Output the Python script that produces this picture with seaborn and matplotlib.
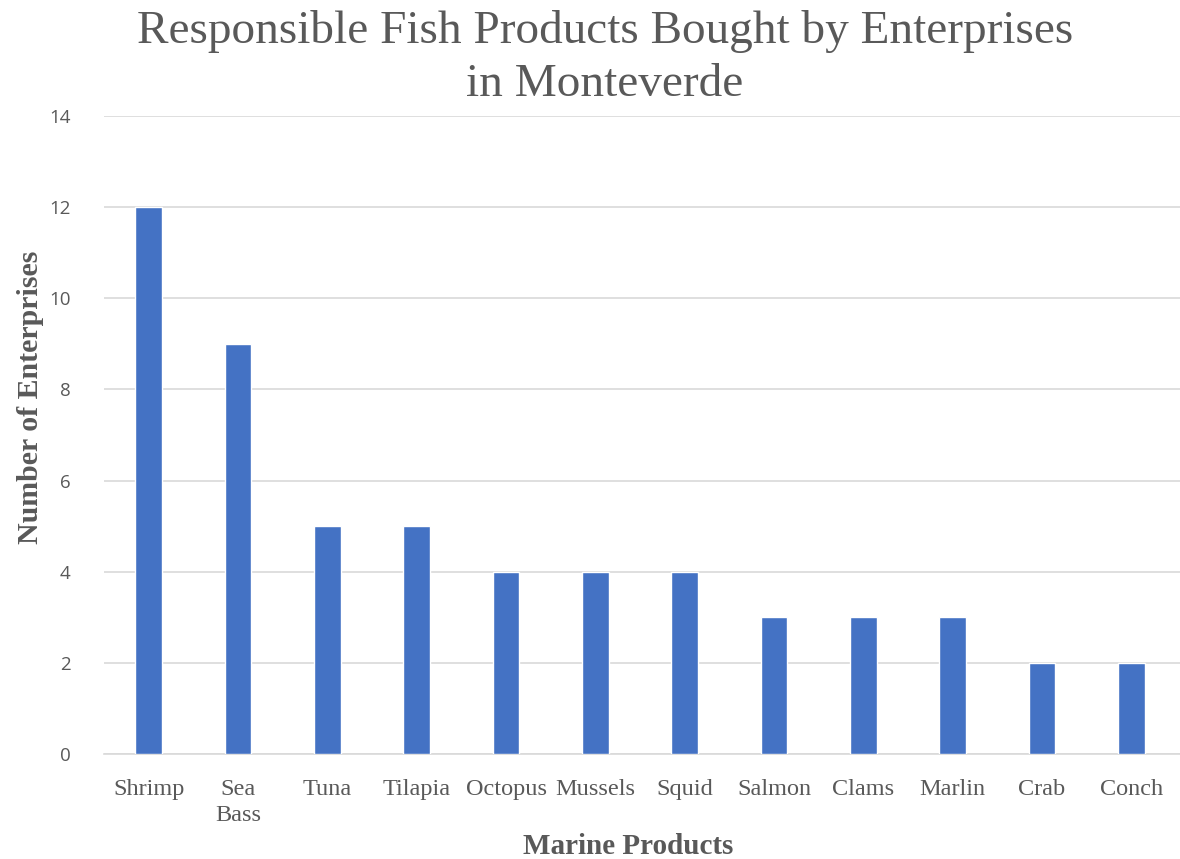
import matplotlib
matplotlib.use("Agg")
import matplotlib.pyplot as plt
import seaborn as sns
import pandas as pd

categories = ["Shrimp", "Sea\nBass", "Tuna", "Tilapia", "Octopus", "Mussels",
              "Squid", "Salmon", "Clams", "Marlin", "Crab", "Conch"]
values = [12, 9, 5, 5, 4, 4, 4, 3, 3, 3, 2, 2]
yticks = [0, 2, 4, 6, 8, 10, 12, 14]

df = pd.DataFrame({"Product": categories, "Count": values})

sns.set_style("white")
fig = plt.figure(figsize=(11.8, 8.59), dpi=100)
ax = fig.add_axes([104/1180, 105/859, (1180-104)/1180, (743-105)/859])

sns.barplot(data=df, x="Product", y="Count", color="#4472C4", width=0.3,
            saturation=1, ax=ax, zorder=3)

ax.set_xlim(-0.5, 11.5 + 4/90)
ax.set_ylim(0, 14)
ax.set_yticks(yticks)
ax.set_yticklabels([str(t) for t in yticks], fontsize=13.5, color="#595959",
                   family="Open Sans")
ax.set_xticks(range(len(categories)))
ax.set_xticklabels(categories, fontsize=17.5, color="#595959",
                   family="Liberation Serif", linespacing=1.3)
ax.tick_params(axis="both", length=0)
ax.tick_params(axis="y", pad=24)
ax.tick_params(axis="x", pad=18)
ax.yaxis.grid(True, color="#D9D9D9", linewidth=1.2, zorder=0)
ax.set_axisbelow(True)
for s in ["top", "right", "left"]:
    ax.spines[s].set_visible(False)
ax.spines["bottom"].set_color("#D9D9D9")
ax.spines["bottom"].set_linewidth(1.2)

ax.set_xlabel("Marine Products", fontsize=21, fontweight="bold",
              color="#595959", family="Liberation Serif", va="center")
ax.set_ylabel("Number of Enterprises", fontsize=21.5, fontweight="bold",
              color="#595959", family="Liberation Serif", va="center")
ax.xaxis.set_label_coords((628-104)/(1180-104), (859-846-105)/(743-105))
ax.yaxis.set_label_coords((31-104)/(1180-104), (859-397-105)/(743-105))

fig.text(605/1180, 1 - 58/859,
         "Responsible Fish Products Bought by Enterprises\nin Monteverde",
         ha="center", va="center", fontsize=34, color="#595959",
         family="Liberation Serif", linespacing=1.32)

fig.savefig("out.png", dpi=100, facecolor="white")
